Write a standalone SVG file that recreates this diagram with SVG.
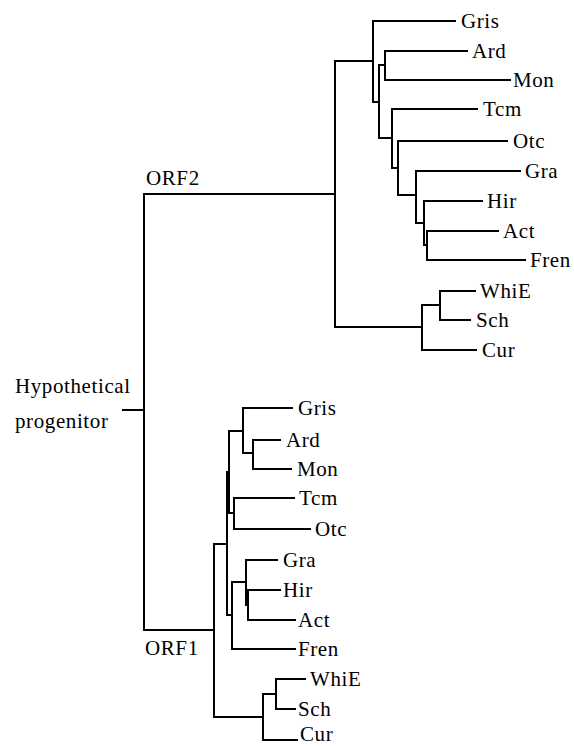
<svg xmlns="http://www.w3.org/2000/svg" width="574" height="746" viewBox="0 0 574 746">
<style>
text{font-family:'Liberation Serif','Times New Roman',Times,'DejaVu Serif',serif;font-size:21px;letter-spacing:0.6px;fill:#000}
.c{fill:none;stroke:#000;stroke-width:2;stroke-linecap:square;stroke-linejoin:miter}
</style>
<rect width="574" height="746" fill="#fff"/>
<g id="connectors" class="c">
<path d="M123 410H144M144 194V630M144 194H335M144 630H214"/>
<path d="M335 61V327M335 61H373M335 327H422"/>
<path d="M373 21V102M373 21H455M373 102H379"/>
<path d="M379 65V138M379 65H385M385 51V80M385 51H467M385 80H510"/>
<path d="M379 138H392M392 109V168M392 109H477"/>
<path d="M392 168H398M398 141V195M398 141H507"/>
<path d="M398 195H416M416 171V223M416 171H520"/>
<path d="M416 223H424M424 201V245M424 201H482"/>
<path d="M424 245H427M427 231V260M427 231H498M427 260H525"/>
<path d="M422 305V350M422 305H440M440 291V320M440 291H475M440 320H470M422 350H476"/>
<path d="M214 544V717M214 544H227M214 717H263"/>
<path d="M227 472V615M227 472H229M229 431V513"/>
<path d="M229 431H243M243 408V453M243 408H292M243 453H253M253 440V469M253 440H280M253 469H291"/>
<path d="M229 513H234M234 498V529M234 498H294M234 529H310"/>
<path d="M227 615H232M232 582V649M232 582H246M232 649H295"/>
<path d="M246 560V605M246 560H277M246 605H248M248 590V620M248 590H280M248 620H295"/>
<path d="M263 694V740M263 694H276M276 679V709M276 679H305M276 709H295M263 740H297"/>
</g>
<g font-family="Liberation Serif, Times New Roman, serif">
<g id="root"><text x="15" y="393">Hypothetical</text><text x="15" y="428">progenitor</text></g>
<g id="orf2"><text x="146" y="185">ORF2</text></g>
<g id="orf1"><text x="145" y="655">ORF1</text></g>
<g id="orf2-leaves">
<g id="u-gris"><text x="461" y="28">Gris</text></g>
<g id="u-ard"><text x="472" y="58">Ard</text></g>
<g id="u-mon"><text x="513" y="87">Mon</text></g>
<g id="u-tcm"><text x="483" y="116">Tcm</text></g>
<g id="u-otc"><text x="513" y="148">Otc</text></g>
<g id="u-gra"><text x="525" y="178">Gra</text></g>
<g id="u-hir"><text x="487" y="208">Hir</text></g>
<g id="u-act"><text x="503" y="238">Act</text></g>
<g id="u-fren"><text x="530" y="267">Fren</text></g>
<g id="u-whie"><text x="480" y="298">WhiE</text></g>
<g id="u-sch"><text x="476" y="327">Sch</text></g>
<g id="u-cur"><text x="482" y="357">Cur</text></g>
</g>
<g id="orf1-leaves">
<g id="l-gris"><text x="298" y="415">Gris</text></g>
<g id="l-ard"><text x="286" y="447">Ard</text></g>
<g id="l-mon"><text x="297" y="476">Mon</text></g>
<g id="l-tcm"><text x="299" y="505">Tcm</text></g>
<g id="l-otc"><text x="315" y="536">Otc</text></g>
<g id="l-gra"><text x="283" y="567">Gra</text></g>
<g id="l-hir"><text x="283" y="597">Hir</text></g>
<g id="l-act"><text x="298" y="627">Act</text></g>
<g id="l-fren"><text x="298" y="656">Fren</text></g>
<g id="l-whie"><text x="310" y="686">WhiE</text></g>
<g id="l-sch"><text x="298" y="716">Sch</text></g>
<g id="l-cur"><text x="300" y="741">Cur</text></g>
</g>
</g>
</svg>
